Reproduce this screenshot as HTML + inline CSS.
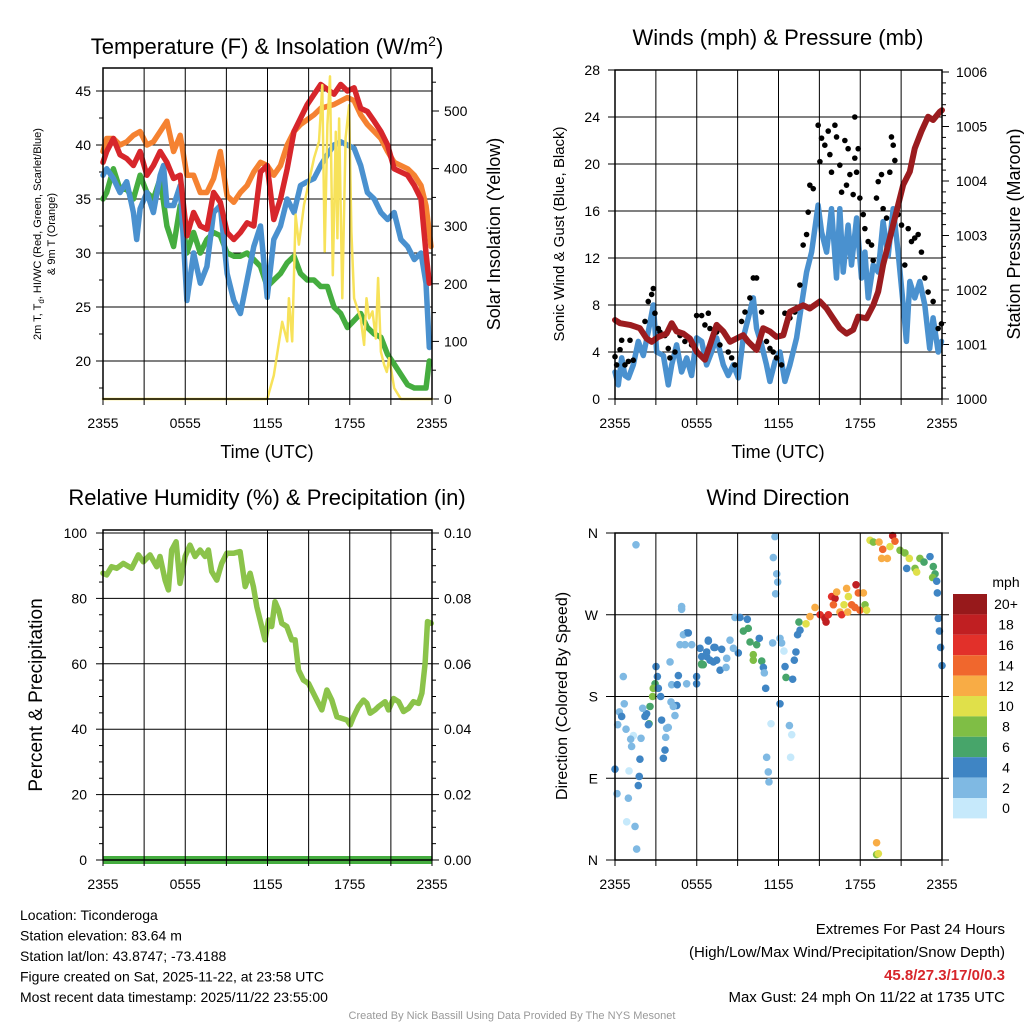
<!DOCTYPE html>
<html><head><meta charset="utf-8"><style>
body{margin:0;background:#fff}
svg{display:block;font-family:"Liberation Sans",Arial,sans-serif}
</style></head><body>
<svg id="c" width="1024" height="1024" viewBox="0 0 1024 1024"></svg>
<script>
// ---- Panel 1: temperature & insolation ----
const redT=[0,0.27,0.76,1.24,1.73,2.22,2.71,3.2,3.68,4.17,4.66,5.15,5.63,6.12,6.61,7.1,7.58,8.07,8.56,9.05,9.54,10.02,10.51,11.0,11.49,11.98,12.46,12.95,13.44,13.93,14.9,15.88,16.85,17.34,17.83,18.32,18.8,19.29,19.78,20.27,20.76,21.24,22.22,22.71,23.2,23.56,23.8];
const tempRed=[38.4,39.4,40.6,39.1,38.75,38.1,39.4,37.2,38.1,39.4,38.4,36.9,37.2,31.6,33.75,32.5,32.2,35.6,34.7,31.9,31.25,31.9,32.8,32.5,37.5,38.1,33.1,35,37.8,41.25,43.75,45.6,44.7,45.6,45,45.3,43.4,43.1,42.2,41.25,40,37.8,37.2,36.25,35,30,27.2];
const orangeT=[0,0.27,0.76,1.24,1.73,2.22,2.71,3.2,3.68,4.17,4.66,5.15,5.63,6.12,6.61,7.1,7.58,8.07,8.56,9.05,9.54,10.02,10.51,11.0,11.49,11.98,12.46,12.95,13.44,13.93,14.41,15.39,15.88,16.85,17.83,18.32,18.8,19.29,19.78,20.27,20.76,21.24,22.22,22.71,23.2,23.56,23.93];
const tempOrange=[39.4,40.6,40.6,40,40.3,40.9,41.25,40,40.3,41.25,42.2,39.4,40.9,37.2,37.2,35.6,35.6,36.9,39.4,35.3,34.7,35.6,36.25,37.5,38.4,38.1,37.2,38.1,40,41.25,41.9,42.8,43.4,43.75,44.4,44.1,42.8,41.9,41.25,40.6,39.4,38.4,37.8,37.2,36.25,34.4,30.6];
const wcT=[0,0.27,0.76,1.24,1.73,2.22,2.46,2.71,3.2,3.68,4.17,4.41,4.66,5.15,5.63,6.12,6.61,7.1,7.58,8.07,8.56,9.05,9.54,10.02,10.51,11.0,11.49,11.98,12.46,12.95,13.44,13.93,14.41,14.9,15.39,15.88,16.37,16.85,17.34,17.83,18.32,18.8,19.29,19.78,20.27,20.76,21.24,21.73,22.22,22.71,23.2,23.56,23.8];
const wcBlue=[37.2,37.8,36.9,35.6,36.6,33.75,31.25,34.1,35.6,33.75,37.2,38.1,34.4,34.4,36.25,25.6,30,27.2,28.75,33.75,34.4,28.1,25.6,24.4,27.5,30.6,32.5,25.9,31.25,32.5,35,33.75,36.25,36.6,36.9,38.1,39.1,40,40.3,40,39.7,38.1,35.6,35,33.75,33.1,33.75,31.25,30.6,29.4,30,27.2,21.25];
const dewT=[0,0.27,0.76,1.24,1.73,2.22,2.71,3.2,3.68,4.17,4.66,5.15,5.63,6.12,6.61,7.1,7.58,8.07,8.56,9.05,9.54,10.02,10.51,11.0,11.49,11.98,12.46,12.95,13.44,13.93,14.41,14.9,15.39,15.88,16.37,16.85,17.34,17.83,18.32,18.8,19.29,19.78,20.27,20.76,21.24,21.73,22.22,22.71,23.2,23.56,23.8];
const dewGreen=[35,35.6,37.8,35.9,35.9,35,37.2,35.6,35,36.9,32.5,30.6,34.4,30,31.9,30,31.25,31.9,31.6,30,29.7,29.7,30,29.4,28.75,26.9,27.5,28.1,29.1,29.7,28.1,27.5,27.5,26.9,26.9,25,24.4,23.1,23.75,24.4,23.1,22.5,22.2,20.6,19.7,18.75,17.8,17.5,17.5,17.5,20];
const solT=[0,11.98,12.46,13.07,13.44,13.56,13.8,14.05,14.29,14.66,15.39,15.76,16.0,16.17,16.37,16.56,16.76,16.98,17.1,17.22,17.46,17.7,17.95,18.12,18.32,18.56,18.8,19.05,19.22,19.41,19.66,19.9,20.07,20.27,20.51,20.7,20.88,21.24,21.73,24];
const solar=[0,0,41,134,100,175,100,320,268,337,418,447,545,256,476,560,215,464,279,487,175,453,510,290,175,157,140,94,175,140,152,105,210,82,59,47,71,19,0,0];
const p1Left=[20,25,30,35,40,45];
const p1Right=[0,100,200,300,400,500];
// ---- Panel 2: winds & pressure ----
const windT=[0,0.24,0.49,0.73,0.98,1.34,1.71,2.08,2.44,2.81,3.06,3.55,3.91,4.16,4.52,4.89,5.26,5.62,5.99,6.36,6.72,7.09,7.46,7.95,8.31,8.68,9.05,9.41,9.78,10.15,10.39,10.76,11.12,11.37,11.74,12.1,12.47,12.84,13.33,13.69,14.06,14.43,14.91,15.16,15.53,15.89,16.26,16.5,16.75,17.11,17.36,17.73,18.09,18.34,18.58,18.95,19.32,19.68,20.05,20.42,20.78,21.15,21.39,21.64,22.0,22.37,22.74,23.1,23.35,23.72,23.96];
const windBlue=[2.3,1.2,3.5,2.0,1.8,2.9,4.9,3.7,5.7,8.0,4.0,3.7,1.2,2.9,4.6,2.3,3.5,2.0,5.2,4.9,2.9,4.0,5.2,2.9,2.0,2.9,1.8,5.2,6.9,8.6,6.0,4.6,2.9,1.5,3.2,4.0,1.5,2.9,5.2,8.0,10.8,12.5,16.5,14.2,12.5,16.2,10.3,16.2,10.8,14.8,11.4,15.4,10.3,12.5,8.6,11.4,10.8,15.1,12.2,16.2,12.5,8.0,4.9,10.0,8.6,10.0,8.0,4.3,6.9,4.0,4.9];
const gustT=[0,0.12,0.37,0.49,0.73,0.98,1.10,1.34,2.20,2.44,2.69,2.81,2.93,3.18,3.30,3.67,3.91,4.03,4.40,4.77,5.13,5.62,5.99,6.36,6.60,6.85,6.97,7.46,7.70,8.31,8.56,8.80,9.29,9.54,9.90,10.15,10.39,10.76,11.12,11.37,11.61,11.86,12.22,12.47,12.84,13.20,13.57,13.81,14.06,14.18,14.30,14.55,14.91,15.04,15.16,15.40,15.65,15.77,15.89,16.14,16.26,16.50,16.63,16.87,16.99,17.11,17.24,17.48,17.60,17.73,17.85,17.97,18.22,18.34,18.58,18.83,18.95,19.19,19.32,19.56,19.68,19.93,20.17,20.29,20.42,20.54,20.78,21.03,21.27,21.52,21.76,22.00,22.25,22.49,22.74,22.98,23.35,23.72,23.96,17.6];
const gustBlack=[3.6,2.9,4.2,5.0,2.9,3.2,5.0,3.3,6.6,8.3,8.9,9.4,7.3,6.0,5.7,5.4,4.3,3.5,4.0,5.4,4.9,4.6,7.1,7.1,6.3,7.3,6.0,5.7,4.6,4.0,3.5,2.9,6.6,7.4,8.6,10.3,10.3,7.4,4.9,4.3,4.0,3.5,2.9,7.3,6.9,7.4,9.7,13.1,14.0,15.9,18.2,17.9,23.3,20.2,22.2,21.6,22.8,20.8,19.3,23.3,22.3,19.9,17.6,22.0,18.2,21.3,19.1,17.4,20.5,19.3,21.3,17.1,15.7,14.5,13.4,13.1,11.8,17.1,18.5,19.1,16.2,15.4,19.3,22.3,21.6,20.3,15.7,14.8,11.4,14.5,13.4,13.7,14.0,12.5,10.3,9.1,8.3,6.0,6.4,24.0];
const presT=[0,0.37,1.10,1.83,2.32,2.69,3.18,3.79,4.16,4.52,5.01,5.50,5.99,6.60,6.97,7.46,7.95,8.44,8.92,9.41,9.78,10.39,10.88,11.37,11.86,12.35,12.84,13.33,13.81,14.30,15.04,15.53,16.01,16.50,16.99,17.48,17.85,18.46,18.95,19.32,19.68,20.17,20.66,21.15,21.64,22.0,22.49,22.98,23.35,23.84,24];
const pressure=[1001.45,1001.39,1001.36,1001.30,1001.11,1001.05,1001.14,1001.20,1001.39,1001.24,1001.20,1001.11,1000.87,1000.72,1000.99,1001.36,1001.24,1001.05,1001.11,1001.17,1001.05,1000.90,1001.30,1001.24,1001.14,1001.17,1001.60,1001.66,1001.72,1001.66,1001.79,1001.66,1001.48,1001.30,1001.20,1001.27,1001.51,1001.48,1001.72,1001.97,1002.46,1002.95,1003.44,1003.93,1004.17,1004.60,1004.91,1005.18,1005.12,1005.27,1005.30];
const p2Left=[0,4,8,12,16,20,24,28];
const p2Right=[1000,1001,1002,1003,1004,1005,1006];
// ---- Panel 3: RH ----
const rhT=[0,0.27,0.63,1.0,1.48,2.09,2.58,2.94,3.43,3.92,4.16,4.53,4.77,5.01,5.33,5.62,5.99,6.35,6.72,7.08,7.45,7.69,7.93,8.30,8.66,9.03,9.51,10.0,10.37,10.73,10.97,11.22,11.46,11.82,12.07,12.31,12.55,12.8,13.04,13.41,13.77,14.01,14.26,14.62,14.99,15.35,15.72,15.96,16.33,16.69,17.06,17.42,17.79,18.03,18.27,18.64,19.0,19.25,19.49,19.85,20.1,20.58,20.83,21.19,21.56,21.92,22.29,22.65,23.02,23.26,23.5,23.67,23.94];
const rh=[87.7,87.2,89.7,89.2,90.7,89.2,93.3,91.2,93.3,89.7,92.8,85.6,82.6,94.8,97.3,84.6,92.8,96.3,92.8,94.8,92.8,94.8,88.2,85.6,90.7,93.8,93.8,94.3,83.6,87.7,83.6,77.5,73.4,67.3,73.4,71.4,79.0,76.5,72.4,71.4,67.3,67.3,58.1,55.0,54.0,51.0,47.9,45.9,52.0,48.9,43.8,43.3,42.8,41.3,43.8,46.9,48.9,47.9,44.9,45.9,46.9,48.4,45.9,49.4,48.4,45.4,46.4,48.4,47.9,51.0,60.1,72.9,72.4];
const p3Left=[0,20,40,60,80,100];
const p3Right=["0.00","0.02","0.04","0.06","0.08","0.10"];
// ---- Panel 4: wind direction ----
const dirT=[1.54,4.89,4.89,5.26,5.02,5.38,4.77,5.14,5.63,6.24,6.85,7.26,6.36,6.73,6.97,7.46,6.36,6.48,5.99,5.99,5.26,4.65,4.04,3.01,3.11,2.94,2.81,3.35,3.18,4.16,4.57,4.11,4.53,4.28,4.40,2.76,2.57,2.32,2.03,2.20,2.50,2.45,0.61,0.68,0.32,0.49,0.20,0.81,1.35,1.15,1.22,1.91,3.42,3.91,3.79,3.72,3.67,3.55,1.83,0.0,1.03,1.78,1.71,0.15,0.98,0.86,1.47,1.59,
11.74,11.62,11.87,11.94,11.79,8.81,9.17,9.71,9.42,9.78,9.91,10.40,10.59,10.15,10.15,10.77,10.89,10.96,11.06,9.05,8.44,8.69,8.20,7.83,7.34,6.85,6.73,7.22,7.71,8.15,6.36,12.11,11.57,12.23,12.40,12.48,12.55,13.04,13.16,13.28,13.40,13.58,13.50,14.02,14.31,14.68,15.05,15.41,15.66,15.49,15.90,16.15,16.27,17.0,17.13,17.69,17.86,18.23,16.03,16.51,16.81,17.37,17.61,17.98,18.35,18.47,16.64,17.08,18.72,18.96,19.38,19.65,19.99,19.57,20.18,20.38,20.55,20.92,21.28,21.60,22.02,22.14,22.38,22.68,23.12,23.36,23.49,23.31,23.61,23.66,23.73,23.81,23.90,24.0,21.41,12.11,11.45,12.80,12.97,11.13,11.25,11.30,12.89,19.2,19.2,19.33];
const dirDeg=[347,279,276,250,248,250,237,237,237,233,242,234,224,224,220,220,216,215,202,194,194,203,218,213,202,194,189,180,189,193,193,174,170,169,159,180,169,161,167,158,150,149,202,172,163,158,149,144,137,133,125,134,154,146,145,135,121,112,111,100,98,92,82,73,68,42,37,12,
356,333,315,306,293,267,267,265,252,255,240,237,244,226,220,219,212,206,189,228,242,233,222,232,234,241,229,218,209,212,215,244,239,239,230,213,201,199,220,229,248,253,262,260,268,278,270,266,270,262,290,288,295,299,290,303,294,294,281,273,281,281,278,275,281,275,270,273,352,350,350,342,332,332,345,357,351,341,338,332,321,317,332,328,334,323,315,311,307,294,266,252,234,214,321,172,150,148,138,113,97,86,113,19,6,7];
const dirSpd=[2,2,2,4,2,4,2,2,2,4,4,4,4,4,4,4,6,6,4,4,2,4,2,4,4,6,8,4,4,2,4,2,4,2,2,8,6,4,2,4,6,4,2,2,2,4,2,2,0,2,2,2,4,2,2,2,4,4,4,4,0,4,4,2,2,0,2,2,
2,2,2,2,2,2,4,4,6,6,6,6,4,8,8,6,4,2,4,4,2,2,2,4,4,4,4,4,4,2,6,2,2,2,0,4,6,4,4,4,4,4,6,10,12,12,16,18,16,18,16,18,12,12,10,18,14,12,14,12,10,14,14,14,8,10,16,12,10,8,12,14,12,12,10,18,14,8,8,10,8,10,8,6,4,6,6,8,4,4,4,4,4,4,4,4,0,2,0,2,2,2,0,12,8,10];
const legendLabels=["20+","18","16","14","12","10","8","6","4","2","0"];
const speedColors=["#c6e9fb","#7fb9e3","#3f85c4","#47a56a","#7fbe45","#e0e04a","#f8ac45","#f0672d","#e2302a","#c01f22","#97191b"];

const svg=document.getElementById('c');
const NS='http://www.w3.org/2000/svg';
function mk(tag,at,parent){const e=document.createElementNS(NS,tag);for(const k in at)e.setAttribute(k,at[k]);(parent||svg).appendChild(e);return e;}
function txt(s,x,y,size,anchor,extra,parent){const e=mk('text',Object.assign({x:x,y:y,'font-size':size,'text-anchor':anchor||'middle',fill:'#000'},extra||{}),parent);e.textContent=s;return e;}
function path(xs,ys,fx,fy,color,w,parent){let d='';for(let i=0;i<xs.length;i++){d+=(i?'L':'M')+fx(xs[i]).toFixed(1)+','+fy(ys[i]).toFixed(1);}return mk('path',{d:d,fill:'none',stroke:color,'stroke-width':w,'stroke-linejoin':'round','stroke-linecap':'round'},parent);}

function frame(g,x0,y0,x1,y1){
  for(let i=0;i<=8;i++){const x=x0+(x1-x0)*i/8;mk('line',{x1:x,y1:y0,x2:x,y2:y1,stroke:'#000','stroke-width':1},g);mk('line',{x1:x,y1:y1,x2:x,y2:y1+6,stroke:'#000','stroke-width':1},g);}
  mk('rect',{x:x0,y:y0,width:x1-x0,height:y1-y0,fill:'none',stroke:'#000','stroke-width':1.5},g);
  const lab=["2355","0555","1155","1755","2355"];
  for(let i=0;i<5;i++){const t=txt(lab[i],x0+(x1-x0)*i/4,y1+29,14,'middle',{},g);}
}

// ===== Panel 1 =====
(function(){
  const g=mk('g',{});
  
  const x0=103,x1=432,y0=68,y1=399;
  const fx=t=>x0+t/24*(x1-x0), fy=v=>91+(45-v)*10.8, fs=v=>399-v*0.576;
  p1Left.forEach(v=>{mk('line',{x1:x0,y1:fy(v),x2:x1,y2:fy(v),stroke:'#000','stroke-width':1},g);mk('line',{x1:x0-7,y1:fy(v),x2:x0,y2:fy(v),stroke:'#000'},g);const t=txt(String(v),x0-12,fy(v)+5,14,'end',{},g);});
  for(let v=17.5;v<47;v+=5)mk('line',{x1:x0-4,y1:fy(v),x2:x0,y2:fy(v),stroke:'#000'},g);
  p1Right.forEach(v=>{mk('line',{x1:x1,y1:fs(v),x2:x1+7,y2:fs(v),stroke:'#000'},g);txt(String(v),x1+12,fs(v)+5,14,'start',{},g);});
  for(let v=50;v<570;v+=100)mk('line',{x1:x1,y1:fs(v),x2:x1+4,y2:fs(v),stroke:'#000'},g);
  const c=mk('g',{},g);
  const p4=path(dewT,dewGreen,fx,fy,'#45ad3f',5.5,c);
  const p3=path(orangeT,tempOrange,fx,fy,'#f58231',5.5,c);
  const p2=path(wcT,wcBlue,fx,fy,'#4a91cf',5.5,c);
  const p1=path(redT,tempRed,fx,fy,'#d7262b',5.5,c);
  const ps=path(solT,solar,fx,fs,'#f7e25a',2.5,c);
  frame(g,x0,y0,x1,y1);
  const tt=mk('text',{x:267,y:54,'font-size':22,'text-anchor':'middle'},g);tt.innerHTML='Temperature (F) &amp; Insolation (W/m<tspan dy="-8" font-size="14">2</tspan><tspan dy="8">)</tspan>';
  
  txt('Time (UTC)',267,458,18,'middle',{},g);
  const yl=mk('text',{transform:'translate(41,234) rotate(-90)','font-size':11,'text-anchor':'middle'},g);yl.innerHTML='2m T, T<tspan dy="3" font-size="8">d</tspan><tspan dy="-3">, HI/WC (Red, Green, Scarlet/Blue)</tspan>';
  
  txt('& 9m T (Orange)',0,0,11,'middle',{transform:'translate(55,234) rotate(-90)'},g);
  txt('Solar Insolation (Yellow)',0,0,18,'middle',{transform:'translate(500,234) rotate(-90)',},g);
})();

// ===== Panel 2 =====
(function(){
  const g=mk('g',{});
  
  const x0=615,x1=942,y0=70,y1=399;
  const fx=t=>x0+t/24*(x1-x0), fy=v=>399-v*11.75, fp=v=>399-(v-1000)*54.5;
  p2Left.forEach(v=>{if(v>0&&v<28)mk('line',{x1:x0,y1:fy(v),x2:x1,y2:fy(v),stroke:'#000'},g);mk('line',{x1:x0-7,y1:fy(v),x2:x0,y2:fy(v),stroke:'#000'},g);txt(String(v),x0-15,fy(v)+5,14,'end',{},g);});
  p2Right.forEach(v=>{mk('line',{x1:x1,y1:fp(v),x2:x1+7,y2:fp(v),stroke:'#000'},g);txt(String(v),x1+14,fp(v)+5,14,'start',{},g);});
  for(let v=1000.2;v<1006;v+=0.2)mk('line',{x1:x1,y1:fp(v),x2:x1+4,y2:fp(v),stroke:'#000'},g);
  const c=mk('g',{},g);
  const pw=path(windT,windBlue,fx,fy,'#4a91cf',5.5,c);
  gustT.forEach((t,i)=>{const d=mk('circle',{cx:fx(t),cy:fy(gustBlack[i]),r:2.8,fill:'#000'},c);});
  const pp=path(presT,pressure,fx,fp,'#9b1c1f',6,c);
  frame(g,x0,y0,x1,y1);
  txt('Winds (mph) & Pressure (mb)',778,45,22,'middle',{},g);
  txt('Time (UTC)',778,458,18,'middle',{},g);
  txt('Sonic Wind & Gust (Blue, Black)',0,0,15,'middle',{transform:'translate(564,234) rotate(-90)',},g);
  txt('Station Pressure (Maroon)',0,0,18,'middle',{transform:'translate(1020,234) rotate(-90)',},g);
})();

// ===== Panel 3 =====
(function(){
  const g=mk('g',{});
  
  const x0=103,x1=432,y0=530,y1=860;
  const fx=t=>x0+t/24*(x1-x0), fy=v=>860-v*3.27;
  p3Left.forEach((v,i)=>{if(v>0)mk('line',{x1:x0,y1:fy(v),x2:x1,y2:fy(v),stroke:'#000'},g);mk('line',{x1:x0-7,y1:fy(v),x2:x0,y2:fy(v),stroke:'#000'},g);txt(String(v),x0-16,fy(v)+5,14,'end',{},g);
    mk('line',{x1:x1,y1:fy(v),x2:x1+7,y2:fy(v),stroke:'#000'},g);txt(p3Right[i],x1+12,fy(v)+5,14,'start',{},g);});
  for(let v=5;v<100;v+=5){if(v%20)mk('line',{x1:x0-4,y1:fy(v),x2:x0,y2:fy(v),stroke:'#000'},g);if(v%20)mk('line',{x1:x1,y1:fy(v),x2:x1+4,y2:fy(v),stroke:'#000'},g);}
  const c=mk('g',{},g);
  const pr=path(rhT,rh,fx,fy,'#8bc34a',5.5,c);
  const pc=mk('line',{x1:x0,y1:fy(0),x2:x1,y2:fy(0),stroke:'#45ad3f','stroke-width':8},c);
  frame(g,x0,y0,x1,y1);
  txt('Relative Humidity (%) & Precipitation (in)',267,505,22,'middle',{},g);
  txt('Percent & Precipitation',0,0,19,'middle',{transform:'translate(42,695) rotate(-90)',},g);
})();

// ===== Panel 4 =====
(function(){
  const g=mk('g',{});
  
  const x0=615,x1=942,y0=533,y1=860;
  const fx=t=>x0+t/24*(x1-x0), fy=d=>860-d/360*(y1-y0);
  const lbl=['N','E','S','W','N'];
  [0,90,180,270,360].forEach((d,i)=>{if(d>0&&d<360)mk('line',{x1:x0,y1:fy(d),x2:x1,y2:fy(d),stroke:'#000'},g);mk('line',{x1:x0-9,y1:fy(d),x2:x0,y2:fy(d),stroke:'#000'},g);mk('line',{x1:x1,y1:fy(d),x2:x1+7,y2:fy(d),stroke:'#000'},g);txt(lbl[i],x0-17,fy(d)+5,14,'end',{},g);});
  const c=mk('g',{},g);
  dirT.forEach((t,i)=>{const k=Math.min(10,Math.floor(dirSpd[i]/2));const d=mk('circle',{cx:fx(t),cy:fy(dirDeg[i]),r:3.8,fill:speedColors[k]},c);});
  frame(g,x0,y0,x1,y1);
  txt('Wind Direction',778,505,22,'middle',{},g);
  txt('Direction (Colored By Speed)',0,0,16,'middle',{transform:'translate(567,696) rotate(-90)',},g);
  const lg=mk('g',{},g);
  txt('mph',1006,587,14,'middle',{},lg);
  const h=20.4;
  legendLabels.forEach((l,i)=>{mk('rect',{x:953,y:594+i*h,width:34,height:h,fill:speedColors[10-i]},lg);const t=txt(l,1006,594+i*h+h/2+5,14,'middle',{},lg);});
})();

// ===== Footer =====
const foot=mk('g',{});
['Location: Ticonderoga','Station elevation: 83.64 m','Station lat/lon: 43.8747; -73.4188','Figure created on Sat, 2025-11-22, at 23:58 UTC','Most recent data timestamp: 2025/11/22 23:55:00'].forEach((s,i)=>txt(s,20,920+i*20.5,14,'start',{},foot));
txt('Extremes For Past 24 Hours',1005,934,15,'end',{},foot);
txt('(High/Low/Max Wind/Precipitation/Snow Depth)',1005,957,15,'end',{},foot);
txt('45.8/27.3/17/0/0.3',1005,980,15,'end',{fill:'#d7262b','font-weight':'bold',},foot);
txt('Max Gust: 24 mph On 11/22 at 1735 UTC',1005,1002,15,'end',{},foot);
txt('Created By Nick Bassill Using Data Provided By The NYS Mesonet',512,1019,11,'middle',{fill:'#999',},foot);
</script>
</body></html>
